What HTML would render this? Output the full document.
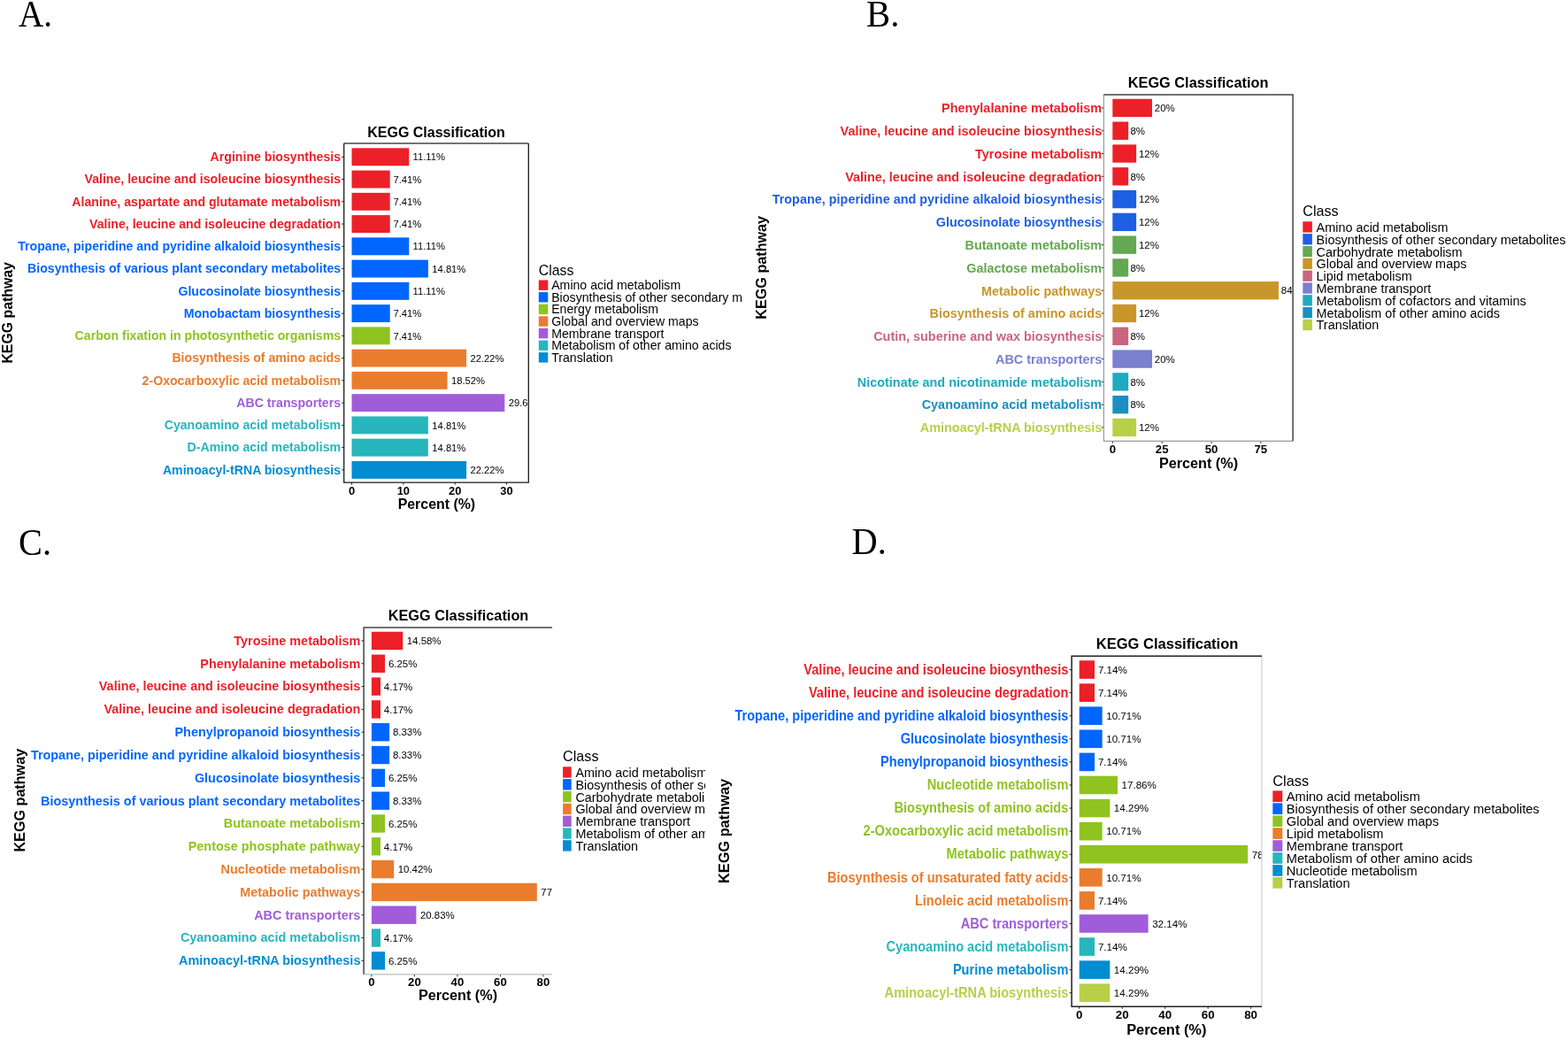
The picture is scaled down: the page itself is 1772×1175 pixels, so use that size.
<!DOCTYPE html>
<html><head><meta charset="utf-8"><title>KEGG Classification</title><style>
html,body{margin:0;padding:0;background:#fff;width:1772px;height:1175px;overflow:hidden;}
svg{display:block;}
svg{fill:#000;} text{font-family:"Liberation Sans",Arial,Helvetica,sans-serif;}
.b{font-weight:bold;}
.let{font-family:"Liberation Serif","Times New Roman",serif;font-size:42px;}
.val{fill:#000;}
</style></head>
<body><svg width="1772" height="1175" viewBox="0 0 1772 1175">
<defs><clipPath id="clipA"><rect x="388.7" y="162" width="208.6" height="383.1"/></clipPath><clipPath id="lclipA"><rect x="0" y="0" width="839.3" height="1175"/></clipPath><clipPath id="clipB"><rect x="1247.4" y="107.1" width="213.7" height="391.2"/></clipPath><clipPath id="lclipB"><rect x="0" y="0" width="1772" height="1175"/></clipPath><clipPath id="clipC"><rect x="411.1" y="709" width="212.9" height="391.8"/></clipPath><clipPath id="lclipC"><rect x="0" y="0" width="797" height="1175"/></clipPath><clipPath id="clipD"><rect x="1211.1" y="741.3" width="214.9" height="395.9"/></clipPath><clipPath id="lclipD"><rect x="0" y="0" width="1772" height="1175"/></clipPath></defs>
<rect width="1772" height="1175" fill="#fff"/>
<g id="pA"><text class="let" transform="translate(21 29.8) scale(0.93 1)">A.</text><text class="b" font-size="16.00" x="493" y="154.8" text-anchor="middle">KEGG Classification</text><g><rect x="397.5" y="167.32" width="64.8" height="19.95" fill="#EC2028"/><rect x="397.5" y="192.58" width="43.22" height="19.95" fill="#EC2028"/><rect x="397.5" y="217.84" width="43.22" height="19.95" fill="#EC2028"/><rect x="397.5" y="243.09" width="43.22" height="19.95" fill="#EC2028"/><rect x="397.5" y="268.35" width="64.8" height="19.95" fill="#0066FF"/><rect x="397.5" y="293.61" width="86.39" height="19.95" fill="#0066FF"/><rect x="397.5" y="318.87" width="64.8" height="19.95" fill="#0066FF"/><rect x="397.5" y="344.12" width="43.22" height="19.95" fill="#0066FF"/><rect x="397.5" y="369.38" width="43.22" height="19.95" fill="#8FC31F"/><rect x="397.5" y="394.64" width="129.61" height="19.95" fill="#EA7C2D"/><rect x="397.5" y="419.89" width="108.03" height="19.95" fill="#EA7C2D"/><rect x="397.5" y="445.15" width="172.83" height="19.95" fill="#A15DD9"/><rect x="397.5" y="470.41" width="86.39" height="19.95" fill="#27B6BD"/><rect x="397.5" y="495.67" width="86.39" height="19.95" fill="#27B6BD"/><rect x="397.5" y="520.92" width="129.61" height="19.95" fill="#028CD2"/></g><g class="val" font-size="11.23" clip-path="url(#clipA)"><text x="466.54" y="181.46">11.11%</text><text x="444.5" y="206.71">7.41%</text><text x="444.5" y="231.97">7.41%</text><text x="444.5" y="257.23">7.41%</text><text x="466.54" y="282.48">11.11%</text><text x="488.29" y="307.74">14.81%</text><text x="466.54" y="333">11.11%</text><text x="444.5" y="358.26">7.41%</text><text x="444.5" y="383.51">7.41%</text><text x="531.51" y="408.77">22.22%</text><text x="509.93" y="434.03">18.52%</text><text x="574.73" y="459.28">29.63%</text><text x="488.29" y="484.54">14.81%</text><text x="488.29" y="509.8">14.81%</text><text x="531.51" y="535.06">22.22%</text></g><g class="b" font-size="15.13" text-anchor="end"><text x="385.1" y="182.04" fill="#EC2028" textLength="147.5" lengthAdjust="spacingAndGlyphs">Arginine biosynthesis</text><text x="385.1" y="207.29" fill="#EC2028" textLength="289.6" lengthAdjust="spacingAndGlyphs">Valine, leucine and isoleucine biosynthesis</text><text x="385.1" y="232.55" fill="#EC2028" textLength="303.8" lengthAdjust="spacingAndGlyphs">Alanine, aspartate and glutamate metabolism</text><text x="385.1" y="257.81" fill="#EC2028" textLength="284.1" lengthAdjust="spacingAndGlyphs">Valine, leucine and isoleucine degradation</text><text x="385.1" y="283.07" fill="#0066FF" textLength="364.9" lengthAdjust="spacingAndGlyphs">Tropane, piperidine and pyridine alkaloid biosynthesis</text><text x="385.1" y="308.32" fill="#0066FF" textLength="354.0" lengthAdjust="spacingAndGlyphs">Biosynthesis of various plant secondary metabolites</text><text x="385.1" y="333.58" fill="#0066FF" textLength="183.7" lengthAdjust="spacingAndGlyphs">Glucosinolate biosynthesis</text><text x="385.1" y="358.84" fill="#0066FF" textLength="177.4" lengthAdjust="spacingAndGlyphs">Monobactam biosynthesis</text><text x="385.1" y="384.09" fill="#8FC31F" textLength="300.5" lengthAdjust="spacingAndGlyphs">Carbon fixation in photosynthetic organisms</text><text x="385.1" y="409.35" fill="#EA7C2D" textLength="190.7" lengthAdjust="spacingAndGlyphs">Biosynthesis of amino acids</text><text x="385.1" y="434.61" fill="#EA7C2D" textLength="224.5" lengthAdjust="spacingAndGlyphs">2-Oxocarboxylic acid metabolism</text><text x="385.1" y="459.87" fill="#A15DD9" textLength="117.8" lengthAdjust="spacingAndGlyphs">ABC transporters</text><text x="385.1" y="485.12" fill="#27B6BD" textLength="199.4" lengthAdjust="spacingAndGlyphs">Cyanoamino acid metabolism</text><text x="385.1" y="510.38" fill="#27B6BD" textLength="173.5" lengthAdjust="spacingAndGlyphs">D-Amino acid metabolism</text><text x="385.1" y="535.64" fill="#028CD2" textLength="201.2" lengthAdjust="spacingAndGlyphs">Aminoacyl-tRNA biosynthesis</text></g><path d="M386.1 177.3H388.7M386.1 202.56H388.7M386.1 227.81H388.7M386.1 253.07H388.7M386.1 278.33H388.7M386.1 303.59H388.7M386.1 328.84H388.7M386.1 354.1H388.7M386.1 379.36H388.7M386.1 404.61H388.7M386.1 429.87H388.7M386.1 455.13H388.7M386.1 480.39H388.7M386.1 505.64H388.7M386.1 530.9H388.7" stroke="#222" stroke-width="1" fill="none"/><path d="M397.5 545.1v2.6M455.83 545.1v2.6M514.16 545.1v2.6M572.49 545.1v2.6" stroke="#222" stroke-width="1" fill="none"/><g class="b" font-size="12.90" text-anchor="middle"><text x="397.5" y="559.2">0</text><text x="455.83" y="559.2">10</text><text x="514.16" y="559.2">20</text><text x="572.49" y="559.2">30</text></g><text class="b" font-size="15.90" x="493.4" y="575.4" text-anchor="middle">Percent (%)</text><path d="M388.7 162H597.3" stroke="#444" stroke-width="1.3" fill="none"/><path d="M388.7 162V545.1H597.3V162" stroke="#1a1a1a" stroke-width="1.3" fill="none"/><text class="b" font-size="15.85" transform="translate(14.4 353.35) rotate(-90)" text-anchor="middle">KEGG pathway</text><g font-size="14.14" clip-path="url(#lclipA)"><text font-size="15.85" x="608.8" y="310.5">Class</text><rect x="608.8" y="316.5" width="10.5" height="11.4" fill="#EC2028"/><text x="623.2" y="327.2">Amino acid metabolism</text><rect x="608.8" y="330.11" width="10.5" height="11.4" fill="#0066FF"/><text x="623.2" y="340.81">Biosynthesis of other secondary metabolites</text><rect x="608.8" y="343.72" width="10.5" height="11.4" fill="#8FC31F"/><text x="623.2" y="354.42">Energy metabolism</text><rect x="608.8" y="357.33" width="10.5" height="11.4" fill="#EA7C2D"/><text x="623.2" y="368.03">Global and overview maps</text><rect x="608.8" y="370.94" width="10.5" height="11.4" fill="#A15DD9"/><text x="623.2" y="381.64">Membrane transport</text><rect x="608.8" y="384.55" width="10.5" height="11.4" fill="#27B6BD"/><text x="623.2" y="395.25">Metabolism of other amino acids</text><rect x="608.8" y="398.16" width="10.5" height="11.4" fill="#028CD2"/><text x="623.2" y="408.86">Translation</text></g></g>
<g id="pB"><text class="let" transform="translate(979 29.6) scale(0.97 1)">B.</text><text class="b" font-size="16.32" x="1354.1" y="99.3" text-anchor="middle">KEGG Classification</text><g><rect x="1257.3" y="111.77" width="44.68" height="20.37" fill="#EC2028"/><rect x="1257.3" y="137.56" width="17.87" height="20.37" fill="#EC2028"/><rect x="1257.3" y="163.34" width="26.81" height="20.37" fill="#EC2028"/><rect x="1257.3" y="189.13" width="17.87" height="20.37" fill="#EC2028"/><rect x="1257.3" y="214.91" width="26.81" height="20.37" fill="#1F5FE3"/><rect x="1257.3" y="240.7" width="26.81" height="20.37" fill="#1F5FE3"/><rect x="1257.3" y="266.48" width="26.81" height="20.37" fill="#63A852"/><rect x="1257.3" y="292.27" width="17.87" height="20.37" fill="#63A852"/><rect x="1257.3" y="318.05" width="187.66" height="20.37" fill="#C8962A"/><rect x="1257.3" y="343.84" width="26.81" height="20.37" fill="#C8962A"/><rect x="1257.3" y="369.62" width="17.87" height="20.37" fill="#C9657F"/><rect x="1257.3" y="395.41" width="44.68" height="20.37" fill="#7B7FD0"/><rect x="1257.3" y="421.19" width="17.87" height="20.37" fill="#1EAABF"/><rect x="1257.3" y="446.98" width="17.87" height="20.37" fill="#1A8FC0"/><rect x="1257.3" y="472.76" width="26.81" height="20.37" fill="#B8CF48"/></g><g class="val" font-size="11.45" clip-path="url(#clipB)"><text x="1304.87" y="126.2">20%</text><text x="1277.43" y="151.98">8%</text><text x="1287" y="177.77">12%</text><text x="1277.43" y="203.55">8%</text><text x="1287" y="229.34">12%</text><text x="1287" y="255.12">12%</text><text x="1287" y="280.91">12%</text><text x="1277.43" y="306.69">8%</text><text x="1447.85" y="332.48">84%</text><text x="1287" y="358.26">12%</text><text x="1277.43" y="384.05">8%</text><text x="1304.87" y="409.83">20%</text><text x="1277.43" y="435.62">8%</text><text x="1277.43" y="461.4">8%</text><text x="1287" y="487.19">12%</text></g><g class="b" font-size="15.43" text-anchor="end"><text x="1245.2" y="127.22" fill="#EC2028" textLength="181.1" lengthAdjust="spacingAndGlyphs">Phenylalanine metabolism</text><text x="1245.2" y="153.01" fill="#EC2028" textLength="295.6" lengthAdjust="spacingAndGlyphs">Valine, leucine and isoleucine biosynthesis</text><text x="1245.2" y="178.79" fill="#EC2028" textLength="143.1" lengthAdjust="spacingAndGlyphs">Tyrosine metabolism</text><text x="1245.2" y="204.58" fill="#EC2028" textLength="290.0" lengthAdjust="spacingAndGlyphs">Valine, leucine and isoleucine degradation</text><text x="1245.2" y="230.36" fill="#1F5FE3" textLength="372.5" lengthAdjust="spacingAndGlyphs">Tropane, piperidine and pyridine alkaloid biosynthesis</text><text x="1245.2" y="256.15" fill="#1F5FE3" textLength="187.5" lengthAdjust="spacingAndGlyphs">Glucosinolate biosynthesis</text><text x="1245.2" y="281.93" fill="#63A852" textLength="154.6" lengthAdjust="spacingAndGlyphs">Butanoate metabolism</text><text x="1245.2" y="307.72" fill="#63A852" textLength="153.0" lengthAdjust="spacingAndGlyphs">Galactose metabolism</text><text x="1245.2" y="333.5" fill="#C8962A" textLength="136.2" lengthAdjust="spacingAndGlyphs">Metabolic pathways</text><text x="1245.2" y="359.29" fill="#C8962A" textLength="194.7" lengthAdjust="spacingAndGlyphs">Biosynthesis of amino acids</text><text x="1245.2" y="385.07" fill="#C9657F" textLength="258.0" lengthAdjust="spacingAndGlyphs">Cutin, suberine and wax biosynthesis</text><text x="1245.2" y="410.86" fill="#7B7FD0" textLength="120.2" lengthAdjust="spacingAndGlyphs">ABC transporters</text><text x="1245.2" y="436.64" fill="#1EAABF" textLength="276.4" lengthAdjust="spacingAndGlyphs">Nicotinate and nicotinamide metabolism</text><text x="1245.2" y="462.43" fill="#1A8FC0" textLength="203.5" lengthAdjust="spacingAndGlyphs">Cyanoamino acid metabolism</text><text x="1245.2" y="488.21" fill="#B8CF48" textLength="205.4" lengthAdjust="spacingAndGlyphs">Aminoacyl-tRNA biosynthesis</text></g><path d="M1244.8 121.96H1247.4M1244.8 147.75H1247.4M1244.8 173.53H1247.4M1244.8 199.31H1247.4M1244.8 225.1H1247.4M1244.8 250.88H1247.4M1244.8 276.67H1247.4M1244.8 302.45H1247.4M1244.8 328.24H1247.4M1244.8 354.02H1247.4M1244.8 379.81H1247.4M1244.8 405.59H1247.4M1244.8 431.38H1247.4M1244.8 457.16H1247.4M1244.8 482.95H1247.4" stroke="#222" stroke-width="1" fill="none"/><path d="M1257.3 498.3v2.6M1313.15 498.3v2.6M1369 498.3v2.6M1424.85 498.3v2.6" stroke="#222" stroke-width="1" fill="none"/><g class="b" font-size="13.16" text-anchor="middle"><text x="1257.3" y="512">0</text><text x="1313.15" y="512">25</text><text x="1369" y="512">50</text><text x="1424.85" y="512">75</text></g><text class="b" font-size="16.22" x="1354.5" y="528.6" text-anchor="middle">Percent (%)</text><path d="M1247.4 107.1V498.3H1461.1" stroke="#9a9a9a" stroke-width="1.2" fill="none"/><path d="M1247.4 107.1H1461.1V498.3" stroke="#444" stroke-width="1.5" fill="none"/><text class="b" font-size="16.17" transform="translate(866 302.3) rotate(-90)" text-anchor="middle">KEGG pathway</text><g font-size="14.42" clip-path="url(#lclipB)"><text font-size="16.17" x="1472.3" y="244.3">Class</text><rect x="1472.3" y="250.3" width="10.6" height="12.3" fill="#EC2028"/><text x="1487.6" y="261.9">Amino acid metabolism</text><rect x="1472.3" y="264.12" width="10.6" height="12.3" fill="#1F5FE3"/><text x="1487.6" y="275.72">Biosynthesis of other secondary metabolites</text><rect x="1472.3" y="277.94" width="10.6" height="12.3" fill="#63A852"/><text x="1487.6" y="289.54">Carbohydrate metabolism</text><rect x="1472.3" y="291.76" width="10.6" height="12.3" fill="#C8962A"/><text x="1487.6" y="303.36">Global and overview maps</text><rect x="1472.3" y="305.58" width="10.6" height="12.3" fill="#C9657F"/><text x="1487.6" y="317.18">Lipid metabolism</text><rect x="1472.3" y="319.4" width="10.6" height="12.3" fill="#7B7FD0"/><text x="1487.6" y="331">Membrane transport</text><rect x="1472.3" y="333.22" width="10.6" height="12.3" fill="#1EAABF"/><text x="1487.6" y="344.82">Metabolism of cofactors and vitamins</text><rect x="1472.3" y="347.04" width="10.6" height="12.3" fill="#1A8FC0"/><text x="1487.6" y="358.64">Metabolism of other amino acids</text><rect x="1472.3" y="360.86" width="10.6" height="12.3" fill="#B8CF48"/><text x="1487.6" y="372.46">Translation</text></g></g>
<g id="pC"><text class="let" transform="translate(21 627) scale(0.96 1)">C.</text><text class="b" font-size="16.32" x="518" y="701.1" text-anchor="middle">KEGG Classification</text><g><rect x="419.9" y="713.75" width="35.36" height="20.4" fill="#EC2028"/><rect x="419.9" y="739.57" width="15.16" height="20.4" fill="#EC2028"/><rect x="419.9" y="765.39" width="10.11" height="20.4" fill="#EC2028"/><rect x="419.9" y="791.21" width="10.11" height="20.4" fill="#EC2028"/><rect x="419.9" y="817.02" width="20.2" height="20.4" fill="#0066FF"/><rect x="419.9" y="842.84" width="20.2" height="20.4" fill="#0066FF"/><rect x="419.9" y="868.66" width="15.16" height="20.4" fill="#0066FF"/><rect x="419.9" y="894.48" width="20.2" height="20.4" fill="#0066FF"/><rect x="419.9" y="920.29" width="15.16" height="20.4" fill="#8FC31F"/><rect x="419.9" y="946.11" width="10.11" height="20.4" fill="#8FC31F"/><rect x="419.9" y="971.93" width="25.27" height="20.4" fill="#EA7C2D"/><rect x="419.9" y="997.75" width="186.92" height="20.4" fill="#EA7C2D"/><rect x="419.9" y="1023.57" width="50.51" height="20.4" fill="#A15DD9"/><rect x="419.9" y="1049.38" width="10.11" height="20.4" fill="#27B6BD"/><rect x="419.9" y="1075.2" width="15.16" height="20.4" fill="#028CD2"/></g><g class="val" font-size="11.45" clip-path="url(#clipC)"><text x="459.74" y="728.19">14.58%</text><text x="438.91" y="754.01">6.25%</text><text x="433.86" y="779.82">4.17%</text><text x="433.86" y="805.64">4.17%</text><text x="443.95" y="831.46">8.33%</text><text x="443.95" y="857.28">8.33%</text><text x="438.91" y="883.1">6.25%</text><text x="443.95" y="908.91">8.33%</text><text x="438.91" y="934.73">6.25%</text><text x="433.86" y="960.55">4.17%</text><text x="449.66" y="986.37">10.42%</text><text x="611.31" y="1012.18">77.08%</text><text x="474.9" y="1038">20.83%</text><text x="433.86" y="1063.82">4.17%</text><text x="438.91" y="1089.64">6.25%</text></g><g class="b" font-size="15.43" text-anchor="end"><text x="407.4" y="728.78" fill="#EC2028" textLength="143.1" lengthAdjust="spacingAndGlyphs">Tyrosine metabolism</text><text x="407.4" y="754.6" fill="#EC2028" textLength="181.1" lengthAdjust="spacingAndGlyphs">Phenylalanine metabolism</text><text x="407.4" y="780.42" fill="#EC2028" textLength="295.6" lengthAdjust="spacingAndGlyphs">Valine, leucine and isoleucine biosynthesis</text><text x="407.4" y="806.24" fill="#EC2028" textLength="290.0" lengthAdjust="spacingAndGlyphs">Valine, leucine and isoleucine degradation</text><text x="407.4" y="832.05" fill="#0066FF" textLength="209.9" lengthAdjust="spacingAndGlyphs">Phenylpropanoid biosynthesis</text><text x="407.4" y="857.87" fill="#0066FF" textLength="372.5" lengthAdjust="spacingAndGlyphs">Tropane, piperidine and pyridine alkaloid biosynthesis</text><text x="407.4" y="883.69" fill="#0066FF" textLength="187.5" lengthAdjust="spacingAndGlyphs">Glucosinolate biosynthesis</text><text x="407.4" y="909.51" fill="#0066FF" textLength="361.3" lengthAdjust="spacingAndGlyphs">Biosynthesis of various plant secondary metabolites</text><text x="407.4" y="935.32" fill="#8FC31F" textLength="154.6" lengthAdjust="spacingAndGlyphs">Butanoate metabolism</text><text x="407.4" y="961.14" fill="#8FC31F" textLength="194.7" lengthAdjust="spacingAndGlyphs">Pentose phosphate pathway</text><text x="407.4" y="986.96" fill="#EA7C2D" textLength="157.8" lengthAdjust="spacingAndGlyphs">Nucleotide metabolism</text><text x="407.4" y="1012.78" fill="#EA7C2D" textLength="136.2" lengthAdjust="spacingAndGlyphs">Metabolic pathways</text><text x="407.4" y="1038.6" fill="#A15DD9" textLength="120.2" lengthAdjust="spacingAndGlyphs">ABC transporters</text><text x="407.4" y="1064.41" fill="#27B6BD" textLength="203.5" lengthAdjust="spacingAndGlyphs">Cyanoamino acid metabolism</text><text x="407.4" y="1090.23" fill="#028CD2" textLength="205.4" lengthAdjust="spacingAndGlyphs">Aminoacyl-tRNA biosynthesis</text></g><path d="M408.5 723.95H411.1M408.5 749.77H411.1M408.5 775.59H411.1M408.5 801.4H411.1M408.5 827.22H411.1M408.5 853.04H411.1M408.5 878.86H411.1M408.5 904.68H411.1M408.5 930.49H411.1M408.5 956.31H411.1M408.5 982.13H411.1M408.5 1007.95H411.1M408.5 1033.76H411.1M408.5 1059.58H411.1M408.5 1085.4H411.1" stroke="#222" stroke-width="1" fill="none"/><path d="M419.9 1100.8v2.6M468.4 1100.8v2.6M516.9 1100.8v2.6M565.4 1100.8v2.6M613.9 1100.8v2.6" stroke="#222" stroke-width="1" fill="none"/><g class="b" font-size="13.16" text-anchor="middle"><text x="419.9" y="1114.4">0</text><text x="468.4" y="1114.4">20</text><text x="516.9" y="1114.4">40</text><text x="565.4" y="1114.4">60</text><text x="613.9" y="1114.4">80</text></g><text class="b" font-size="16.22" x="517.5" y="1130.4" text-anchor="middle">Percent (%)</text><path d="M411.1 1100.8H624" stroke="#bbb" stroke-width="1.2" fill="none"/><path d="M624 709H411.1V1100.8" stroke="#444" stroke-width="1.5" fill="none"/><text class="b" font-size="16.17" transform="translate(28.3 904.2) rotate(-90)" text-anchor="middle">KEGG pathway</text><g font-size="14.42" clip-path="url(#lclipC)"><text font-size="16.17" x="636.1" y="859.8">Class</text><rect x="636.1" y="866.3" width="9.6" height="12.4" fill="#EC2028"/><text x="650.4" y="878">Amino acid metabolism</text><rect x="636.1" y="880.12" width="9.6" height="12.4" fill="#0066FF"/><text x="650.4" y="891.82">Biosynthesis of other secondary metabolites</text><rect x="636.1" y="893.94" width="9.6" height="12.4" fill="#8FC31F"/><text x="650.4" y="905.64">Carbohydrate metabolism</text><rect x="636.1" y="907.76" width="9.6" height="12.4" fill="#EA7C2D"/><text x="650.4" y="919.46">Global and overview maps</text><rect x="636.1" y="921.58" width="9.6" height="12.4" fill="#A15DD9"/><text x="650.4" y="933.28">Membrane transport</text><rect x="636.1" y="935.4" width="9.6" height="12.4" fill="#27B6BD"/><text x="650.4" y="947.1">Metabolism of other amino acids</text><rect x="636.1" y="949.22" width="9.6" height="12.4" fill="#028CD2"/><text x="650.4" y="960.92">Translation</text></g></g>
<g id="pD"><text class="let" transform="translate(962.6 625.9) scale(0.96 1)">D.</text><text class="b" font-size="16.53" x="1319.1" y="733.1" text-anchor="middle">KEGG Classification</text><g><rect x="1219.7" y="746.25" width="17.31" height="20.61" fill="#EC2028"/><rect x="1219.7" y="772.33" width="17.31" height="20.61" fill="#EC2028"/><rect x="1219.7" y="798.42" width="25.96" height="20.61" fill="#0066FF"/><rect x="1219.7" y="824.5" width="25.96" height="20.61" fill="#0066FF"/><rect x="1219.7" y="850.59" width="17.31" height="20.61" fill="#0066FF"/><rect x="1219.7" y="876.67" width="43.29" height="20.61" fill="#8FC31F"/><rect x="1219.7" y="902.76" width="34.64" height="20.61" fill="#8FC31F"/><rect x="1219.7" y="928.85" width="25.96" height="20.61" fill="#8FC31F"/><rect x="1219.7" y="954.93" width="190.45" height="20.61" fill="#8FC31F"/><rect x="1219.7" y="981.02" width="25.96" height="20.61" fill="#EA7C2D"/><rect x="1219.7" y="1007.1" width="17.31" height="20.61" fill="#EA7C2D"/><rect x="1219.7" y="1033.19" width="77.91" height="20.61" fill="#A15DD9"/><rect x="1219.7" y="1059.27" width="17.31" height="20.61" fill="#27B6BD"/><rect x="1219.7" y="1085.36" width="34.64" height="20.61" fill="#028CD2"/><rect x="1219.7" y="1111.45" width="34.64" height="20.61" fill="#B8CF48"/></g><g class="val" font-size="11.60" clip-path="url(#clipD)"><text x="1240.9" y="760.84">7.14%</text><text x="1240.9" y="786.93">7.14%</text><text x="1250.2" y="813.01">10.71%</text><text x="1250.2" y="839.1">10.71%</text><text x="1240.9" y="865.19">7.14%</text><text x="1267.53" y="891.27">17.86%</text><text x="1258.87" y="917.36">14.29%</text><text x="1250.2" y="943.44">10.71%</text><text x="1414.69" y="969.53">78.57%</text><text x="1250.2" y="995.61">10.71%</text><text x="1240.9" y="1021.7">7.14%</text><text x="1302.14" y="1047.79">32.14%</text><text x="1240.9" y="1073.87">7.14%</text><text x="1258.87" y="1099.96">14.29%</text><text x="1258.87" y="1126.04">14.29%</text></g><g class="b" font-size="15.63" text-anchor="end"><text x="1207.4" y="761.81" fill="#EC2028" textLength="299.1" lengthAdjust="spacingAndGlyphs">Valine, leucine and isoleucine biosynthesis</text><text x="1207.4" y="787.89" fill="#EC2028" textLength="293.5" lengthAdjust="spacingAndGlyphs">Valine, leucine and isoleucine degradation</text><text x="1207.4" y="813.98" fill="#0066FF" textLength="377.0" lengthAdjust="spacingAndGlyphs">Tropane, piperidine and pyridine alkaloid biosynthesis</text><text x="1207.4" y="840.07" fill="#0066FF" textLength="189.7" lengthAdjust="spacingAndGlyphs">Glucosinolate biosynthesis</text><text x="1207.4" y="866.15" fill="#0066FF" textLength="212.4" lengthAdjust="spacingAndGlyphs">Phenylpropanoid biosynthesis</text><text x="1207.4" y="892.24" fill="#8FC31F" textLength="159.7" lengthAdjust="spacingAndGlyphs">Nucleotide metabolism</text><text x="1207.4" y="918.32" fill="#8FC31F" textLength="197.0" lengthAdjust="spacingAndGlyphs">Biosynthesis of amino acids</text><text x="1207.4" y="944.41" fill="#8FC31F" textLength="231.8" lengthAdjust="spacingAndGlyphs">2-Oxocarboxylic acid metabolism</text><text x="1207.4" y="970.49" fill="#8FC31F" textLength="137.8" lengthAdjust="spacingAndGlyphs">Metabolic pathways</text><text x="1207.4" y="996.58" fill="#EA7C2D" textLength="272.4" lengthAdjust="spacingAndGlyphs">Biosynthesis of unsaturated fatty acids</text><text x="1207.4" y="1022.67" fill="#EA7C2D" textLength="173.5" lengthAdjust="spacingAndGlyphs">Linoleic acid metabolism</text><text x="1207.4" y="1048.75" fill="#A15DD9" textLength="121.6" lengthAdjust="spacingAndGlyphs">ABC transporters</text><text x="1207.4" y="1074.84" fill="#27B6BD" textLength="205.9" lengthAdjust="spacingAndGlyphs">Cyanoamino acid metabolism</text><text x="1207.4" y="1100.92" fill="#028CD2" textLength="130.5" lengthAdjust="spacingAndGlyphs">Purine metabolism</text><text x="1207.4" y="1127.01" fill="#B8CF48" textLength="207.8" lengthAdjust="spacingAndGlyphs">Aminoacyl-tRNA biosynthesis</text></g><path d="M1208.5 756.55H1211.1M1208.5 782.64H1211.1M1208.5 808.72H1211.1M1208.5 834.81H1211.1M1208.5 860.89H1211.1M1208.5 886.98H1211.1M1208.5 913.06H1211.1M1208.5 939.15H1211.1M1208.5 965.24H1211.1M1208.5 991.32H1211.1M1208.5 1017.41H1211.1M1208.5 1043.49H1211.1M1208.5 1069.58H1211.1M1208.5 1095.66H1211.1M1208.5 1121.75H1211.1" stroke="#222" stroke-width="1" fill="none"/><path d="M1219.7 1137.2v2.6M1268.18 1137.2v2.6M1316.66 1137.2v2.6M1365.14 1137.2v2.6M1413.62 1137.2v2.6" stroke="#222" stroke-width="1" fill="none"/><g class="b" font-size="13.33" text-anchor="middle"><text x="1219.7" y="1151.4">0</text><text x="1268.18" y="1151.4">20</text><text x="1316.66" y="1151.4">40</text><text x="1365.14" y="1151.4">60</text><text x="1413.62" y="1151.4">80</text></g><text class="b" font-size="16.42" x="1318.3" y="1168.6" text-anchor="middle">Percent (%)</text><path d="M1426 741.3V1137.2" stroke="#d0d0d0" stroke-width="1.2" fill="none"/><path d="M1426 741.3H1211.1V1137.2H1426" stroke="#222" stroke-width="1.5" fill="none"/><text class="b" font-size="16.37" transform="translate(823.8 939) rotate(-90)" text-anchor="middle">KEGG pathway</text><g font-size="14.61" clip-path="url(#lclipD)"><text font-size="16.37" x="1438.3" y="887.5">Class</text><rect x="1438.3" y="893.4" width="11" height="12.7" fill="#EC2028"/><text x="1453.8" y="905.4">Amino acid metabolism</text><rect x="1438.3" y="907.35" width="11" height="12.7" fill="#0066FF"/><text x="1453.8" y="919.35">Biosynthesis of other secondary metabolites</text><rect x="1438.3" y="921.3" width="11" height="12.7" fill="#8FC31F"/><text x="1453.8" y="933.3">Global and overview maps</text><rect x="1438.3" y="935.25" width="11" height="12.7" fill="#EA7C2D"/><text x="1453.8" y="947.25">Lipid metabolism</text><rect x="1438.3" y="949.2" width="11" height="12.7" fill="#A15DD9"/><text x="1453.8" y="961.2">Membrane transport</text><rect x="1438.3" y="963.15" width="11" height="12.7" fill="#27B6BD"/><text x="1453.8" y="975.15">Metabolism of other amino acids</text><rect x="1438.3" y="977.1" width="11" height="12.7" fill="#028CD2"/><text x="1453.8" y="989.1">Nucleotide metabolism</text><rect x="1438.3" y="991.05" width="11" height="12.7" fill="#B8CF48"/><text x="1453.8" y="1003.05">Translation</text></g></g>
</svg></body></html>
